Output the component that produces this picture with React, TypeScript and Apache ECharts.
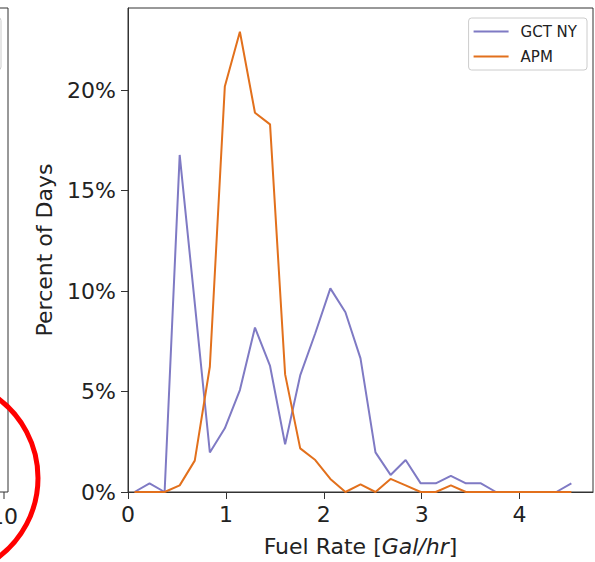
import React, { useEffect, useRef } from "react";
import * as echarts from "echarts";

const fuelRate = [0.066, 0.220, 0.374, 0.528, 0.682, 0.836, 0.989, 1.143, 1.297, 1.451, 1.605, 1.759, 1.913, 2.067, 2.221, 2.375, 2.528, 2.682, 2.836, 2.990, 3.144, 3.298, 3.452, 3.605, 3.759, 3.913, 4.067, 4.221, 4.375, 4.529];
const gctNY = [0, 0.43, 0, 16.77, 9.4, 1.97, 3.17, 5.07, 8.18, 6.27, 2.37, 5.8, 7.9, 10.13, 8.94, 6.65, 1.97, 0.85, 1.59, 0.43, 0.43, 0.8, 0.43, 0.43, 0, 0, 0, 0, 0, 0.43];
const apm = [0, 0, 0, 0.33, 1.56, 6.23, 20.17, 22.9, 18.87, 18.29, 5.85, 2.17, 1.59, 0.65, 0, 0.38, 0, 0.65, 0.33, 0, 0, 0.33, 0, 0, 0, 0, 0, 0, 0, 0];
const seriesNames = ["GCT NY", "APM"];
const xTicks = [0, 1, 2, 3, 4];
const yTicks = [0, 5, 10, 15, 20];

const FONT = "DejaVu Sans";

export default function App() {
  const ref = useRef<HTMLDivElement>(null);
  useEffect(() => {
    document.body.style.margin = "0";
    const chart = echarts.init(ref.current!, null, { renderer: "svg" });
    const pair = (ys: number[]) => fuelRate.map((x, i) => [x, ys[i]]);
    chart.setOption({
      animation: false,
      textStyle: { fontFamily: FONT },
      grid: { left: 128, right: 2, top: 8, bottom: 70, containLabel: false, show: true, borderColor: "#333", borderWidth: 1, backgroundColor: "transparent" },
      legend: {
        orient: "vertical",
        right: 8,
        top: 18,
        data: seriesNames,
        icon: "rect",
        itemWidth: 35,
        itemHeight: 2,
        itemGap: 10,
        padding: [6, 10, 6, 5],
        borderColor: "#cccccc",
        borderWidth: 1,
        borderRadius: 3,
        textStyle: { fontFamily: FONT, fontSize: 15, color: "#222", padding: [0, 0, 0, 7] },
      },
      xAxis: {
        type: "value",
        min: 0,
        max: 4.75,
        interval: 1,
        name: "Fuel Rate [{i|Gal/hr}]",
        nameLocation: "middle",
        nameGap: 43,
        nameTextStyle: {
          fontFamily: FONT,
          fontSize: 22,
          color: "#222",
          rich: { i: { fontFamily: FONT, fontSize: 22, fontStyle: "italic", color: "#222" } },
        },
        splitLine: { show: false },
        axisLine: { show: true, onZero: false, lineStyle: { color: "#333", width: 1 } },
        axisTick: { show: true, inside: false, length: 7, lineStyle: { color: "#333" } },
        axisLabel: {
          fontFamily: FONT,
          fontSize: 22,
          color: "#222",
          margin: 11,
          showMaxLabel: false,
          formatter: (v: number) => (xTicks.includes(v) ? String(v) : ""),
        },
      },
      yAxis: {
        type: "value",
        min: 0,
        max: 24.08,
        interval: 5,
        name: "Percent of Days",
        nameLocation: "middle",
        nameGap: 73,
        nameTextStyle: { fontFamily: FONT, fontSize: 22, color: "#222" },
        splitLine: { show: false },
        axisLine: { show: true, lineStyle: { color: "#333", width: 1 } },
        axisTick: { show: true, inside: false, length: 7, lineStyle: { color: "#333" } },
        axisLabel: {
          fontFamily: FONT,
          fontSize: 22,
          color: "#222",
          margin: 12,
          showMaxLabel: false,
          formatter: (v: number) => (yTicks.includes(v) ? v + "%" : ""),
        },
      },
      series: [
        {
          name: seriesNames[0],
          type: "line",
          data: pair(gctNY),
          showSymbol: false,
          symbol: "none",
          color: "#7f7ac4",
          lineStyle: { width: 2, color: "#7f7ac4" },
          z: 2,
        },
        {
          name: seriesNames[1],
          type: "line",
          data: pair(apm),
          showSymbol: false,
          symbol: "none",
          color: "#e2701c",
          lineStyle: { width: 2, color: "#e2701c" },
          z: 3,
        },
      ],
      graphic: [
        // fragment of the neighbouring subplot on the left
        { type: "line", shape: { x1: 8, y1: 8, x2: 8, y2: 492 }, style: { stroke: "#333", lineWidth: 1 } },
        { type: "line", shape: { x1: 0, y1: 8, x2: 8, y2: 8 }, style: { stroke: "#333", lineWidth: 1 } },
        { type: "line", shape: { x1: 0, y1: 492, x2: 8, y2: 492 }, style: { stroke: "#333", lineWidth: 1 } },
        { type: "line", shape: { x1: 4, y1: 492, x2: 4, y2: 499 }, style: { stroke: "#333", lineWidth: 1 } },
        { type: "rect", shape: { x: -100, y: 17.5, width: 101, height: 52.5, r: 3 }, style: { fill: "none", stroke: "#cccccc", lineWidth: 1 } },
        { type: "text", x: 4, y: 505, style: { text: "10", fontFamily: FONT, fontSize: 22, fill: "#222", textAlign: "center", textVerticalAlign: "top" } },
        { type: "circle", shape: { cx: -61, cy: 478, r: 99 }, style: { fill: "none", stroke: "#ff0000", lineWidth: 5 }, z: 100 },
      ],
    });
    return () => chart.dispose();
  }, []);
  return <div ref={ref} style={{ width: 595, height: 562 }} />;
}
